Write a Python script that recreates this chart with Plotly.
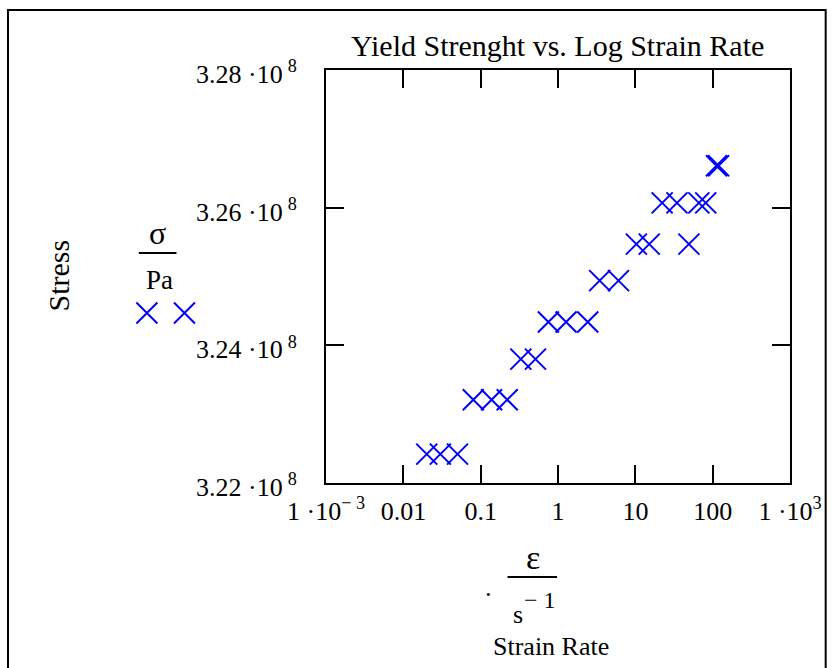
import plotly.graph_objects as go

# Data
strain_rate = [0.02, 0.03, 0.05,
               0.08, 0.138, 0.22,
               0.33, 0.51,
               0.75, 1.27, 2.42,
               3.45, 6.05,
               10.3, 15.1, 49.2,
               22.2, 34.5, 66.2, 81.3,
               112, 119]
stress = [3.2242e8, 3.2242e8, 3.2242e8,
          3.2321e8, 3.2321e8, 3.2321e8,
          3.2380e8, 3.2380e8,
          3.2434e8, 3.2434e8, 3.2434e8,
          3.2494e8, 3.2494e8,
          3.2547e8, 3.2547e8, 3.2547e8,
          3.2607e8, 3.2607e8, 3.2607e8, 3.2607e8,
          3.2661e8, 3.2661e8]
# two points that fall left of the plotted x range (drawn outside the box in the reference)
strain_rate_out = [4.8e-6, 1.47e-5]
stress_out = [3.2447e8, 3.2447e8]

x_tickvals = [1e-3, 1e-2, 1e-1, 1, 10, 100, 1e3]
x_ticktext = ["1 ·10<sup>− 3</sup>", "0.01", "0.1", "1", "10", "100", "1 ·10<sup>3</sup>"]
y_tickvals = [3.22e8, 3.24e8, 3.26e8, 3.28e8]
y_ticktext = ["3.22 ·10\u2009<sup>8</sup>", "3.24 ·10\u2009<sup>8</sup>",
              "3.26 ·10\u2009<sup>8</sup>", "3.28 ·10\u2009<sup>8</sup>"]

FONT = "Liberation Serif, Times New Roman, serif"
W, H = 834, 668
L0 = 120                     # left edge of the full drawing area
L, R, T, B = 328, 796, 70, 483   # the boxed plot area
XLOG = [-3, 3]
decade_px = (R - L) / (XLOG[1] - XLOG[0])
x2_lo = XLOG[0] - (L - L0) / decade_px

def px(x):
    return (x - L0) / (R - L0)

def py(y):
    return (B - y) / (B - T)

fig = go.Figure()
fig.add_trace(go.Scatter(
    x=strain_rate_out, y=stress_out, mode="markers", xaxis="x2", yaxis="y",
    marker=dict(symbol="x-thin-open", size=21, color="#0000ff",
                line=dict(color="#0000ff", width=2)),
    cliponaxis=False, showlegend=False, hoverinfo="skip"))
fig.add_trace(go.Scatter(
    x=strain_rate, y=stress, mode="markers", xaxis="x", yaxis="y",
    marker=dict(symbol="x-thin-open", size=21, color="#0000ff",
                line=dict(color="#0000ff", width=2)),
    cliponaxis=False, showlegend=False, hoverinfo="skip"))

axis_common = dict(showline=True, linecolor="black", linewidth=2, mirror="ticks",
                   ticks="inside", ticklen=18, tickwidth=2, tickcolor="black",
                   showgrid=False, zeroline=False,
                   tickfont=dict(family=FONT, size=26, color="black"))

fig.update_layout(
    xaxis=dict(type="log", range=XLOG, tickmode="array", domain=[px(L), 1],
               tickvals=x_tickvals, ticktext=x_ticktext, anchor="y",
               ticklabelstandoff=4, **axis_common),
    xaxis2=dict(type="log", range=[x2_lo, XLOG[1]], domain=[0, 1], anchor="y",
                visible=False, showgrid=False, zeroline=False),
    yaxis=dict(range=[3.22e8, 3.28e8], tickmode="array", anchor="x",
               tickvals=y_tickvals, ticktext=y_ticktext,
               ticklabelstandoff=22, ticklabelshift=4, **axis_common),
)

ann = []
def text(x, y, s, size=26, angle=0):
    ann.append(dict(x=px(x), y=py(y), xref="paper", yref="paper", text=s,
                    showarrow=False, textangle=angle, xanchor="center", yanchor="middle",
                    font=dict(family=FONT, size=size, color="black")))

text(561, 45, "Yield Strenght vs. Log Strain Rate", size=30)
text(57, 276, "Stress", size=30, angle=-90)
text(158, 233, "σ", size=32)
text(160, 280, "Pa", size=27)
text(537, 557, "ε", size=34)
text(492, 594, "·")
text(522, 614, "s", size=26)
text(544, 600, "− 1", size=24)
text(555, 646, "Strain Rate")

shapes = [
    dict(type="line", xref="paper", yref="paper", x0=px(139), x1=px(177), y0=py(253), y1=py(253),
         line=dict(color="black", width=2)),
    dict(type="line", xref="paper", yref="paper", x0=px(511), x1=px(561), y0=py(577), y1=py(577),
         line=dict(color="black", width=2)),
    dict(type="rect", xref="paper", yref="paper", x0=px(7), x1=px(832), y0=py(10), y1=py(700),
         line=dict(color="black", width=2)),
]

fig.update_layout(width=W, height=H, margin=dict(l=L0, r=W - R, t=T, b=H - B),
                  paper_bgcolor="white", plot_bgcolor="rgba(0,0,0,0)",
                  annotations=ann, shapes=shapes)

fig.write_html("out.html")
